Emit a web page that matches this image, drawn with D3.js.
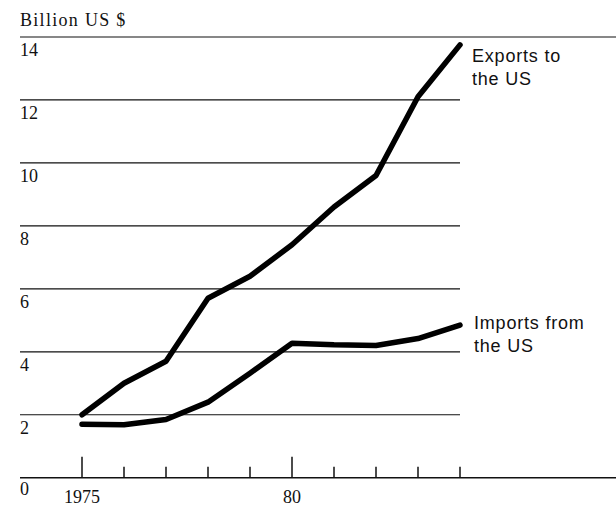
<!DOCTYPE html>
<meta charset="utf-8">
<style>
  body { margin: 0; background: #fff; }
  .serif { font-family: "Liberation Serif", "DejaVu Serif", serif; fill: #111; }
  .sans { font-family: "Liberation Sans", Arial, sans-serif; fill: #111; }
</style>
<script src="https://d3js.org/d3.v7.min.js"></script>
<div id="chart"></div>
<script>
// data
var years = [1975, 1976, 1977, 1978, 1979, 1980, 1981, 1982, 1983, 1984];
var exportsUS = [2.0, 3.0, 3.7, 5.7, 6.4, 7.4, 8.6, 9.6, 12.1, 13.75];
var importsUS = [1.7, 1.68, 1.85, 2.4, 3.32, 4.27, 4.22, 4.2, 4.42, 4.85];
var yTicks = [0, 2, 4, 6, 8, 10, 12, 14];
var majorYears = [1975, 1980];
var yearLabels = ["1975", "80"];

var width = 616, height = 508;

var svg = d3.select("#chart")
  .append("svg")
    .attr("width", width)
    .attr("height", height);

var x = d3.scaleLinear().domain([1975, 1984]).range([82, 460]);
var y = d3.scaleLinear().domain([0, 14]).range([477.7, 37]);

// gridlines - top and zero line run to the edge
svg.selectAll(".grid")
  .data(yTicks)
  .enter()
  .append("line")
    .attr("x1", 20)
    .attr("x2", function(d) { return (d == 0 || d == 14) ? width : x(1984); })
    .attr("y1", function(d) { return y(d); })
    .attr("y2", function(d) { return y(d); })
    .style("stroke", "#111")
    .style("stroke-width", function(d) { return d == 0 ? 1.4 : 1.2; });

// y labels sit just under their line
svg.selectAll(".ylab")
  .data(yTicks)
  .enter()
  .append("text")
    .attr("class", "serif")
    .attr("x", 20)
    .attr("y", function(d) { return y(d) + (d == 0 ? 17 : 19); })
    .attr("font-size", "18px")
    .text(function(d) { return d; });

svg.append("text")
  .attr("class", "serif")
  .attr("x", 20)
  .attr("y", 26)
  .attr("font-size", "18px")
  .attr("letter-spacing", "1.3px")
  .text("Billion US $");

// year ticks
svg.selectAll(".tick")
  .data(years)
  .enter()
  .append("line")
    .attr("x1", function(d) { return x(d); })
    .attr("x2", function(d) { return x(d); })
    .attr("y1", y(0))
    .attr("y2", function(d) { return majorYears.indexOf(d) >= 0 ? y(0) - 21 : y(0) - 11; })
    .style("stroke", "#111")
    .style("stroke-width", 1.5);

svg.selectAll(".xlab")
  .data(majorYears)
  .enter()
  .append("text")
    .attr("class", "serif")
    .attr("x", function(d) { return x(d); })
    .attr("y", 503)
    .attr("text-anchor", "middle")
    .attr("font-size", "18px")
    .text(function(d, i) { return yearLabels[i]; });

// the two series
var line = d3.line()
  .x(function(d, i) { return x(years[i]); })
  .y(function(d) { return y(d); });

[exportsUS, importsUS].forEach(function(s) {
  svg.append("path")
    .attr("d", line(s))
    .style("fill", "none")
    .style("stroke", "#000")
    .style("stroke-width", 5.5)
    .style("stroke-linejoin", "round")
    .style("stroke-linecap", "round");
});

// series labels
var labels = [
  { lines: ["Exports to", "the US"], x: 472, y: 62 },
  { lines: ["Imports from", "the US"], x: 474, y: 329 }
];
labels.forEach(function(l) {
  l.lines.forEach(function(t, i) {
    svg.append("text")
      .attr("class", "sans")
      .attr("x", l.x)
      .attr("y", l.y + i * 23)
      .attr("font-size", "18px")
      .attr("letter-spacing", "0.8px")
      .text(t);
  });
});
</script>
